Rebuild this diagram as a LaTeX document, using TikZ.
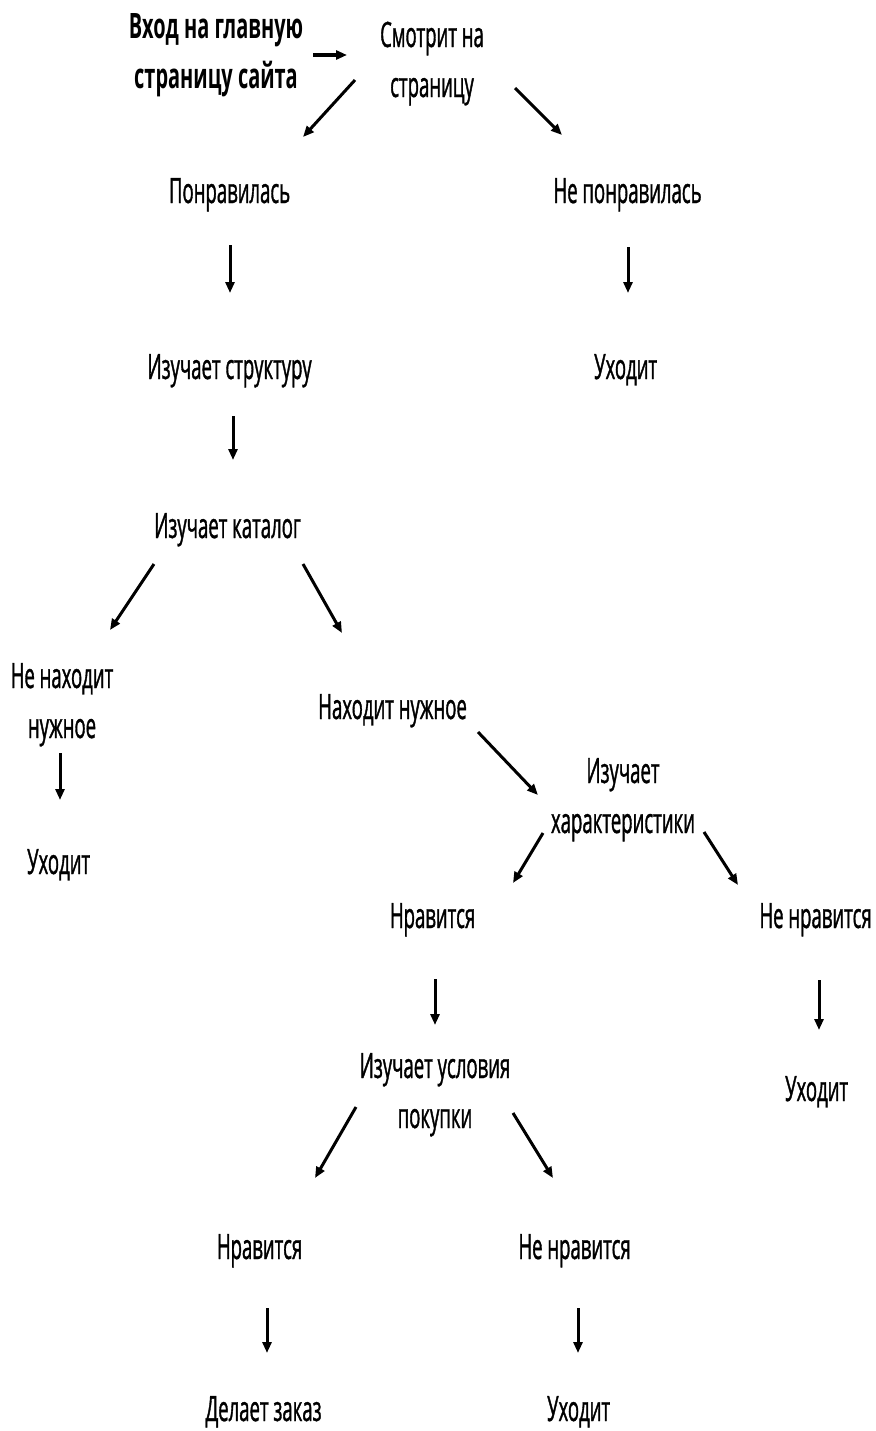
\documentclass[tikz,border=0pt]{standalone}
\usepackage{fontspec}
\setmainfont{Open Sans}[UprightFeatures = {FakeStretch = 0.53, FakeBold = 1},
                        BoldFeatures = {FakeStretch = 0.57}]
\usetikzlibrary{arrows.meta}

\begin{document}
\begin{tikzpicture}[x = 0.5pt, y = -0.5pt,
    every node/.style = { align = center, anchor = base, inner sep = 0pt,
                          font = \fontsize{17.5}{25}\selectfont },
    arr/.style = { line width = 1.5pt, -{Triangle[length = 5.5pt, width = 4.5pt]} }]
  \useasboundingbox (0,0) rectangle (876,1431);

  \node (vhod) at (216,88) { \textbf{Вход на главную} \\ \textbf{страницу сайта} };
  \node (smotrit) at (432,97) { Смотрит на \\ страницу };
  \node (ponr) at (232,203) { Понравилась };
  \node (neponr) at (630,203) { Не понравилась };
  \node (izstr) at (232,379) { Изучает структуру };
  \node (uhod1) at (628,379) { Уходит };
  \node (izkat) at (230,538) { Изучает каталог };
  \node (nenah) at (62,738) { Не находит \\ нужное };
  \node (nah) at (395,719) { Находит нужное };
  \node (uhod2) at (61,874) { Уходит };
  \node (izhar) at (623,833) { Изучает \\ характеристики };
  \node (nrav1) at (435,928) { Нравится };
  \node (nenrav1) at (818,928) { Не нравится };
  \node (izusl) at (435,1128) { Изучает условия \\ покупки };
  \node (uhod3) at (819,1101) { Уходит };
  \node (nrav2) at (262,1259) { Нравится };
  \node (nenrav2) at (577,1259) { Не нравится };
  \node (zakaz) at (266,1421) { Делает заказ };
  \node (uhod4) at (581,1421) { Уходит };

  \draw[arr, line width = 2pt] ([shift={(97,-33)}]vhod.base) -- ([shift={(-85,-42)}]smotrit.base);
  \draw[arr] ([shift={(-77,-17)}]smotrit.base) -- ([shift={(71,-66)}]ponr.base);
  \draw[arr] ([shift={(83,-9)}]smotrit.base) -- ([shift={(-68,-68)}]neponr.base);
  \draw[arr] ([shift={(-2,42)}]ponr.base) -- ([shift={(-2,-86)}]izstr.base);
  \draw[arr] ([shift={(-2,44)}]neponr.base) -- ([shift={(0,-86)}]uhod1.base);
  \draw[arr] ([shift={(1,37)}]izstr.base) -- ([shift={(3,-78)}]izkat.base);
  \draw[arr] ([shift={(-76,26)}]izkat.base) -- ([shift={(48,-108)}]nenah.base);
  \draw[arr] ([shift={(73,26)}]izkat.base) -- ([shift={(-53,-86)}]nah.base);
  \draw[arr] ([shift={(-2,15)}]nenah.base) -- ([shift={(-1,-74)}]uhod2.base);
  \draw[arr] ([shift={(83,13)}]nah.base) -- ([shift={(-85,-38)}]izhar.base);
  \draw[arr] ([shift={(-80,0)}]izhar.base) -- ([shift={(78,-45)}]nrav1.base);
  \draw[arr] ([shift={(81,-1)}]izhar.base) -- ([shift={(-80,-43)}]nenrav1.base);
  \draw[arr] ([shift={(0,51)}]nrav1.base) -- ([shift={(0,-103)}]izusl.base);
  \draw[arr] ([shift={(1,52)}]nenrav1.base) -- ([shift={(0,-71)}]uhod3.base);
  \draw[arr] ([shift={(-79,-21)}]izusl.base) -- ([shift={(53,-81)}]nrav2.base);
  \draw[arr] ([shift={(78,-15)}]izusl.base) -- ([shift={(-24,-81)}]nenrav2.base);
  \draw[arr] ([shift={(5,49)}]nrav2.base) -- ([shift={(1,-68)}]zakaz.base);
  \draw[arr] ([shift={(1,49)}]nenrav2.base) -- ([shift={(-3,-68)}]uhod4.base);
\end{tikzpicture}
\end{document}
